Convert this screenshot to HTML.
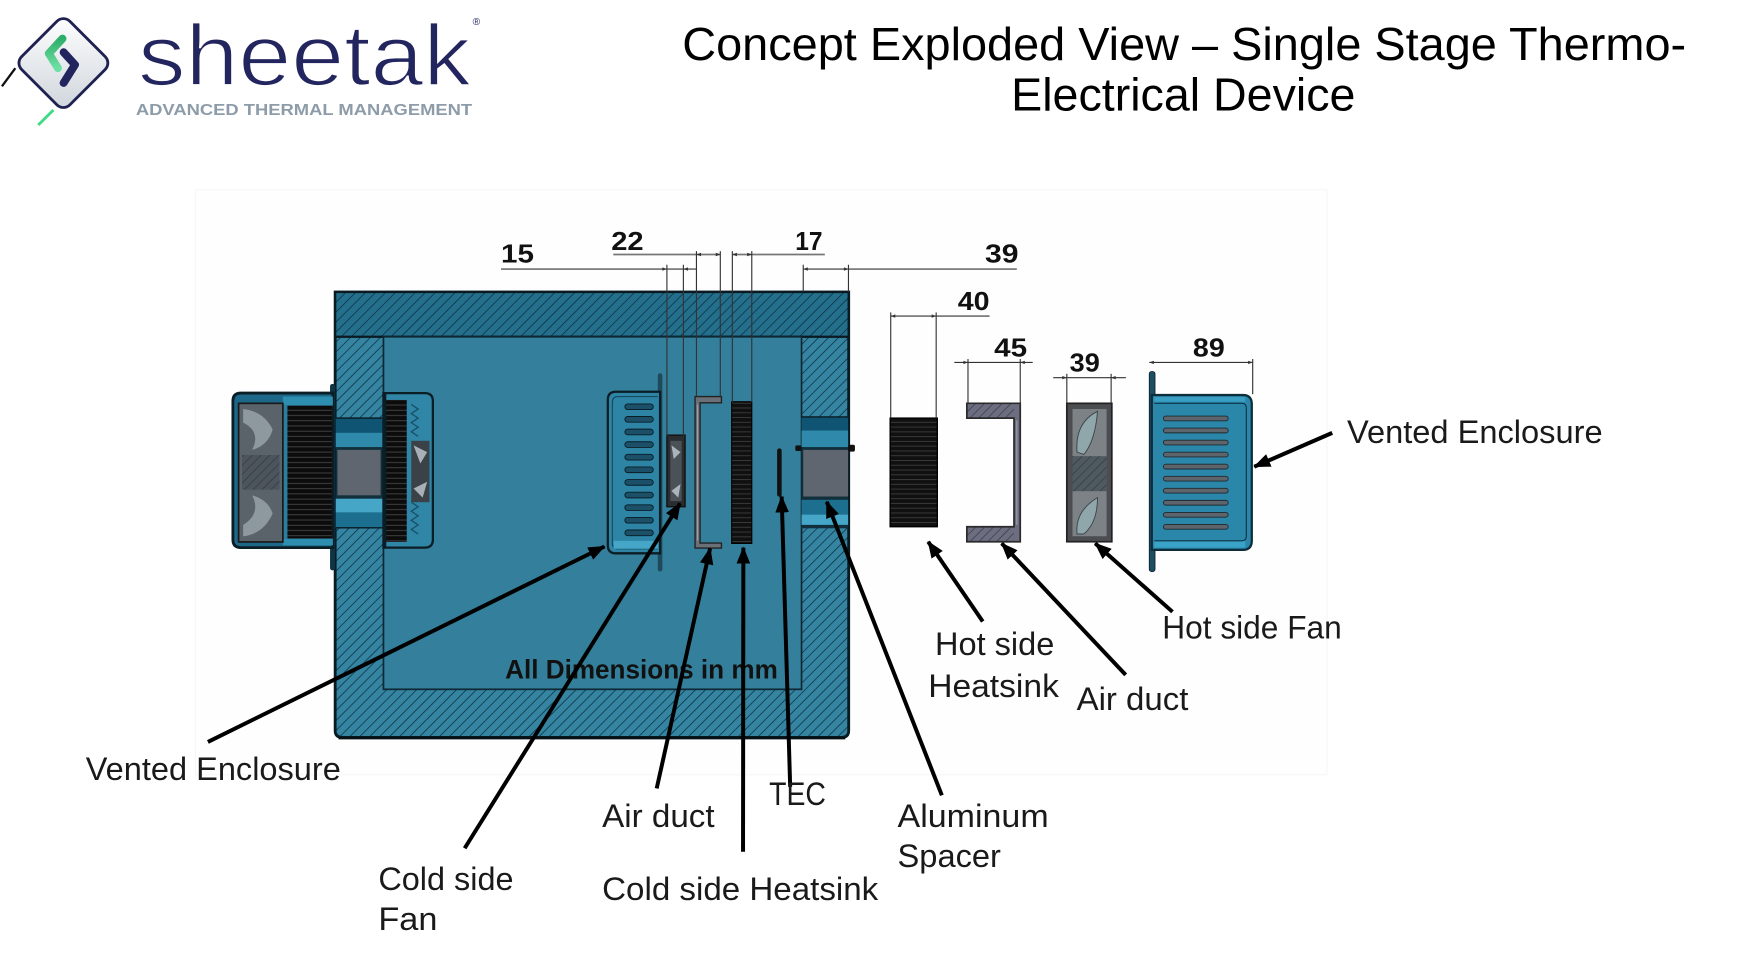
<!DOCTYPE html>
<html><head><meta charset="utf-8">
<style>
html,body{margin:0;padding:0;background:#fff;width:1761px;height:963px;overflow:hidden}
svg{display:block}
text{font-family:"Liberation Sans",Arial,sans-serif}
</style></head>
<body>
<svg width="1761" height="963" viewBox="0 0 1550 847.6" preserveAspectRatio="none" xmlns="http://www.w3.org/2000/svg">
<defs>
  <pattern id="hatch" patternUnits="userSpaceOnUse" width="6.2" height="6.2" patternTransform="rotate(45)">
    <line x1="0" y1="0" x2="0" y2="6.2" stroke="#0a2f3e" stroke-width="1.3"/>
  </pattern>
  <pattern id="hatchg" patternUnits="userSpaceOnUse" width="5.5" height="5.5" patternTransform="rotate(45)">
    <line x1="0" y1="0" x2="0" y2="5.5" stroke="#34364a" stroke-width="1.2"/>
  </pattern>
  <pattern id="fins" patternUnits="userSpaceOnUse" width="10" height="4.6">
    <rect width="10" height="4.6" fill="#0c0c0c"/>
    <line x1="0" y1="2.3" x2="10" y2="2.3" stroke="#4d4d4d" stroke-width="0.7"/>
  </pattern>
  <pattern id="fins2" patternUnits="userSpaceOnUse" width="10" height="4.2">
    <rect width="10" height="4.2" fill="#101010"/>
    <line x1="0" y1="2.1" x2="10" y2="2.1" stroke="#3c3c3c" stroke-width="0.8"/>
  </pattern>
  <linearGradient id="dia" x1="0" y1="0" x2="1" y2="1">
    <stop offset="0" stop-color="#ffffff"/>
    <stop offset="1" stop-color="#cfd5dc"/>
  </linearGradient>
  <linearGradient id="grn" x1="0" y1="0" x2="0" y2="1">
    <stop offset="0" stop-color="#2fae6a"/>
    <stop offset="1" stop-color="#6fe0a4"/>
  </linearGradient>
  <marker id="ah" markerWidth="15" markerHeight="12" refX="14" refY="6" orient="auto" markerUnits="userSpaceOnUse">
    <path d="M0,0 L15,6 L0,12 Z" fill="#000"/>
  </marker>
</defs>

<rect x="0" y="0" width="1550" height="847.6" fill="#fff"/>
<rect x="172" y="167" width="996" height="515" fill="#fefefe" stroke="#f6f6f6" stroke-width="1"/>

<!-- ===== LOGO ===== -->
<line x1="13.5" y1="60" x2="1.7" y2="76" stroke="#111" stroke-width="2"/>
<line x1="47" y1="96.8" x2="33.7" y2="110" stroke="#3ddc84" stroke-width="2.5"/>
<rect x="-30" y="-30" width="60" height="60" rx="8" transform="translate(55.8,55.5) rotate(45)" fill="url(#dia)" stroke="#1f2150" stroke-width="2.5"/>
<polyline points="55,34 43,47 51,60" fill="none" stroke="url(#grn)" stroke-width="7" stroke-linecap="round" stroke-linejoin="round"/>
<polyline points="56,46 66,57 56,73" fill="none" stroke="#22245e" stroke-width="7" stroke-linecap="round" stroke-linejoin="round"/>
<text x="121.5" y="74.8" font-size="76" fill="#23255f" stroke="#fff" stroke-width="1.6" textLength="293" lengthAdjust="spacingAndGlyphs">sheetak</text>
<text x="416" y="22" font-size="9" fill="#23255f">®</text>
<text x="119.6" y="101.2" font-size="13.5" font-weight="bold" fill="#8d9ca8" textLength="296" lengthAdjust="spacingAndGlyphs">ADVANCED THERMAL MANAGEMENT</text>

<!-- ===== TITLE ===== -->
<text x="600.5" y="52.8" font-size="41" fill="#000" textLength="883.6" lengthAdjust="spacingAndGlyphs">Concept Exploded View – Single Stage Thermo-</text>
<text x="890" y="97.4" font-size="41" fill="#000" textLength="303" lengthAdjust="spacingAndGlyphs">Electrical Device</text>

<!-- ===== MAIN ENCLOSURE ===== -->
<path d="M295,257 H747 V643 Q747,649 741,649 H301 Q295,649 295,643 Z" fill="#3584a1"/>
<path d="M295,257 H747 V643 Q747,649 741,649 H301 Q295,649 295,643 Z" fill="url(#hatch)"/>
<path d="M295,257 H747 V643 Q747,649 741,649 H301 Q295,649 295,643 Z" fill="none" stroke="#0a1a22" stroke-width="2.5"/>
<line x1="298" y1="649.5" x2="744" y2="649.5" stroke="#071217" stroke-width="2.5"/>
<rect x="295" y="257" width="452" height="39.4" fill="#246f8c"/>
<rect x="295" y="257" width="452" height="39.4" fill="url(#hatch)"/>
<rect x="295" y="257" width="452" height="39.4" fill="none" stroke="#0a1a22" stroke-width="2"/>
<rect x="337.5" y="296.4" width="368" height="310.3" fill="#347f9b" stroke="#0d2833" stroke-width="1.5"/>

<!-- left wall channel -->
<rect x="295.5" y="368" width="42" height="13" fill="#0f5573"/>
<rect x="295.5" y="381" width="42" height="12.5" fill="#2e89aa"/>
<rect x="295.5" y="393.5" width="42" height="2.5" fill="#11303c"/>
<rect x="295.5" y="396" width="42" height="40" fill="#11303c"/>
<rect x="297" y="396" width="38" height="40" fill="#5f6670"/>
<rect x="295.5" y="436" width="42" height="3" fill="#11303c"/>
<rect x="295.5" y="439" width="42" height="12" fill="#45a6c8"/>
<rect x="295.5" y="451" width="42" height="13.6" fill="#1c6f8f"/>
<line x1="295.5" y1="368" x2="337.5" y2="368" stroke="#0a1a22" stroke-width="1.2"/>
<line x1="295.5" y1="464.6" x2="337.5" y2="464.6" stroke="#0a1a22" stroke-width="1.2"/>

<!-- right wall channel -->
<rect x="705.5" y="367" width="41" height="12" fill="#0f5573"/>
<rect x="705.5" y="379" width="41" height="14.5" fill="#2e89aa"/>
<rect x="705.5" y="393.5" width="41" height="46.5" fill="#11303c"/>
<rect x="707" y="396" width="39.5" height="41" fill="#5f6670"/>
<rect x="705.5" y="440" width="41" height="13" fill="#1c6f8f"/>
<rect x="705.5" y="453" width="41" height="9" fill="#45a6c8"/>
<rect x="705.5" y="462" width="41" height="3" fill="#11303c"/>
<line x1="705.5" y1="367" x2="746.5" y2="367" stroke="#0a1a22" stroke-width="1.2"/>
<rect x="700" y="392" width="5.5" height="5" rx="1.5" fill="#111"/>
<rect x="746.5" y="391.5" width="6" height="6" rx="1.5" fill="#111"/>

<!-- left outer fan assembly -->
<rect x="290.5" y="338" width="4.5" height="164" rx="2" fill="#0f3443"/>
<path d="M293,346 H212 Q205,346 205,353 V475 Q205,482 212,482 H293 Z" fill="#1d6888" stroke="#0b1d25" stroke-width="2.5"/>
<rect x="249" y="349" width="44" height="8" fill="#2d8eb0"/>
<rect x="249" y="474" width="44" height="6" fill="#2d8eb0"/>
<rect x="250" y="357" width="42" height="117" fill="url(#fins)"/>
<rect x="249" y="357" width="4" height="117" fill="#2b7f9e"/>
<rect x="210" y="355" width="39" height="122" fill="#5b636a" stroke="#1a1a1a" stroke-width="1.5"/>
<path d="M214,360 Q232,362 240,378 Q236,392 222,396 Q230,380 214,372 Z" fill="#8d999e"/>
<path d="M214,472 Q232,470 240,452 Q236,440 222,436 Q230,452 214,462 Z" fill="#8d999e"/>
<rect x="213" y="400.5" width="33" height="30.5" fill="#4b555b"/>
<rect x="213" y="400.5" width="33" height="30.5" fill="url(#hatchg)"/>

<!-- inner left component -->
<path d="M337.5,346 H374 Q381,346 381,353 V475 Q381,482 374,482 H337.5 Z" fill="#2f86a6" stroke="#0b1d25" stroke-width="2"/>
<rect x="339" y="352" width="19" height="125" fill="url(#fins)"/>
<path d="M362,356 l6,4 l-6,4 l6,4 l-6,4 l6,4 l-6,4 l6,4 M362,442 l6,4 l-6,4 l6,4 l-6,4 l6,4 l-6,4 l6,4" fill="none" stroke="#1a5068" stroke-width="1.2"/>
<rect x="362" y="388" width="16" height="54" fill="#3b4247"/>
<path d="M364,392 L376,398 L370,408 Z M364,430 L376,424 L372,438 Z" fill="#a6b0b6"/>
<line x1="339" y1="346" x2="339" y2="482" stroke="#0b1d25" stroke-width="2"/>

<!-- cold side vented enclosure -->
<rect x="579" y="328.5" width="4" height="174.5" rx="2" fill="#1e4a5c"/>
<path d="M581,344.8 H542 Q535,344.8 535,352 V480 Q535,487 542,487 H581 Z" fill="#2d84a5" stroke="#0b1d25" stroke-width="2"/>
<path d="M579,349 H544 Q539,349 539,354 V478 Q539,483 544,483 H579" fill="none" stroke="#134a60" stroke-width="1"/>
<rect x="540" y="476" width="39" height="7" fill="#45a6c8"/>
<g fill="#1b5068" stroke="#0b1d25" stroke-width="0.8">
  <rect x="550" y="355.5" width="25" height="5" rx="2.5"/>
  <rect x="550" y="366.6" width="25" height="5" rx="2.5"/>
  <rect x="550" y="377.7" width="25" height="5" rx="2.5"/>
  <rect x="550" y="388.8" width="25" height="5" rx="2.5"/>
  <rect x="550" y="399.9" width="25" height="5" rx="2.5"/>
  <rect x="550" y="411" width="25" height="5" rx="2.5"/>
  <rect x="550" y="422.1" width="25" height="5" rx="2.5"/>
  <rect x="550" y="433.2" width="25" height="5" rx="2.5"/>
  <rect x="550" y="444.3" width="25" height="5" rx="2.5"/>
  <rect x="550" y="455.4" width="25" height="5" rx="2.5"/>
  <rect x="550" y="466.5" width="25" height="5" rx="2.5"/>
</g>

<!-- cold fan -->
<rect x="587" y="383" width="16" height="63" fill="#2a2d30" stroke="#111" stroke-width="1.2"/>
<rect x="590" y="388" width="10" height="53" fill="#4a5257"/>
<path d="M591,392 L599,398 L593,404 Z M591,432 L599,426 L597,438 Z" fill="#aab4ba"/>

<!-- cold air duct -->
<path d="M611.8,349 H635 V354.5 H616.2 V478 H635 V482.4 H611.8 Z" fill="#6b6f78" stroke="#222" stroke-width="1.2"/>
<line x1="614" y1="356" x2="614" y2="476" stroke="#9aa0a8" stroke-width="1"/>

<!-- cold heatsink -->
<rect x="644" y="353.6" width="17.7" height="124.7" fill="url(#fins2)" stroke="#000" stroke-width="1"/>

<!-- TEC -->
<rect x="684" y="394.6" width="4" height="42.6" rx="2" fill="#111"/>

<!-- ===== HOT SIDE PARTS ===== -->
<rect x="783.5" y="368" width="41.5" height="95.6" fill="url(#fins2)" stroke="#000" stroke-width="1.2"/>
<path d="M851,355 H898 V476.8 H851 V463.6 H892.5 V368 H851 Z" fill="#6c6e80"/>
<rect x="851" y="355" width="41.5" height="13" fill="url(#hatchg)"/>
<rect x="851" y="463.6" width="41.5" height="13.2" fill="url(#hatchg)"/>
<path d="M851,355 H898 V476.8 H851 V463.6 H892.5 V368 H851 Z" fill="none" stroke="#2a2a2a" stroke-width="1.5"/>
<line x1="895" y1="370" x2="895" y2="462" stroke="#9aa0b0" stroke-width="1"/>
<rect x="939" y="355" width="39.6" height="121.8" fill="#4b4d50" stroke="#222" stroke-width="1.5"/>
<rect x="944" y="360" width="30" height="112" fill="#7d8286"/>
<path d="M948,398 Q946,372 966,362 Q964,388 954,400 Z" fill="#8fa6ab" stroke="#3a4448" stroke-width="0.8"/>
<path d="M948,470 Q946,450 966,438 Q966,460 954,470 Z" fill="#8fa6ab" stroke="#3a4448" stroke-width="0.8"/>
<rect x="944" y="401.5" width="30" height="30.8" fill="#4e5a5e"/>
<rect x="944" y="401.5" width="30" height="30.8" fill="url(#hatchg)"/>

<rect x="1011.6" y="327" width="5" height="176" rx="2" fill="#1d4e63" stroke="#0d2430" stroke-width="0.8"/>
<path d="M1013.8,347.7 H1094 Q1101.8,347.7 1101.8,356 V476 Q1101.8,484 1094,484 H1013.8 Z" fill="#2a87aa" stroke="#0d2d3a" stroke-width="2"/>
<rect x="1016" y="349.5" width="80" height="4" fill="#3b9fc3"/>
<rect x="1016" y="476" width="80" height="6" fill="#3aa3c8"/>
<path d="M1016,355 H1093 Q1097,355 1097,359 V472 Q1097,476 1093,476 H1016" fill="none" stroke="#0d3547" stroke-width="1"/>
<g fill="#5d646b" stroke="#1b2a30" stroke-width="0.8">
  <rect x="1024" y="366.2" width="57" height="4.2" rx="2.1"/>
  <rect x="1024" y="376.8" width="57" height="4.2" rx="2.1"/>
  <rect x="1024" y="387.4" width="57" height="4.2" rx="2.1"/>
  <rect x="1024" y="398" width="57" height="4.2" rx="2.1"/>
  <rect x="1024" y="408.6" width="57" height="4.2" rx="2.1"/>
  <rect x="1024" y="419.2" width="57" height="4.2" rx="2.1"/>
  <rect x="1024" y="429.8" width="57" height="4.2" rx="2.1"/>
  <rect x="1024" y="440.4" width="57" height="4.2" rx="2.1"/>
  <rect x="1024" y="451" width="57" height="4.2" rx="2.1"/>
  <rect x="1024" y="461.6" width="57" height="4.2" rx="2.1"/>
</g>

<!-- ===== DIMENSION LINES ===== -->
<g stroke="#333" stroke-width="1" fill="none">
  <line x1="441" y1="236.8" x2="613" y2="236.8"/>
  <line x1="587" y1="233" x2="587" y2="384"/>
  <line x1="601.5" y1="233" x2="601.5" y2="384"/>
  <line x1="539.8" y1="224" x2="634" y2="224" stroke="#777" stroke-width="1.6"/>
  <line x1="613" y1="221" x2="613" y2="349"/>
  <line x1="634" y1="221" x2="634" y2="349"/>
  <line x1="644.6" y1="224" x2="726" y2="224" stroke="#777" stroke-width="1.6"/>
  <line x1="644.6" y1="221" x2="644.6" y2="354"/>
  <line x1="661.7" y1="221" x2="661.7" y2="354"/>
  <line x1="707" y1="236.8" x2="895" y2="236.8"/>
  <line x1="707" y1="233" x2="707" y2="257"/>
  <line x1="746.8" y1="233" x2="746.8" y2="257"/>
  <line x1="784" y1="278.2" x2="871" y2="278.2"/>
  <line x1="784" y1="275" x2="784" y2="368"/>
  <line x1="824" y1="275" x2="824" y2="368"/>
  <line x1="840" y1="319" x2="909" y2="319"/>
  <line x1="852" y1="316" x2="852" y2="355"/>
  <line x1="898" y1="316" x2="898" y2="355"/>
  <line x1="927" y1="332.4" x2="991" y2="332.4"/>
  <line x1="939" y1="329" x2="939" y2="355"/>
  <line x1="978" y1="329" x2="978" y2="355"/>
  <line x1="1011.6" y1="319" x2="1102.6" y2="319"/>
  <line x1="1102.6" y1="316" x2="1102.6" y2="347"/>
</g>
<g fill="#333">
  <path d="M587,236.8 l-4,-1.5 v3 z M601.5,236.8 l4,-1.5 v3 z"/>
  <path d="M613,224 l4,-1.5 v3 z M634,224 l-4,-1.5 v3 z"/>
  <path d="M644.6,224 l4,-1.5 v3 z M661.7,224 l-4,-1.5 v3 z"/>
  <path d="M707,236.8 l4,-1.5 v3 z M746.8,236.8 l-4,-1.5 v3 z"/>
  <path d="M784,278.2 l4,-1.5 v3 z M824,278.2 l-4,-1.5 v3 z"/>
  <path d="M852,319 l-4,-1.5 v3 z M898,319 l4,-1.5 v3 z"/>
  <path d="M939,332.4 l-4,-1.5 v3 z M978,332.4 l4,-1.5 v3 z"/>
  <path d="M1011.6,319 l4,-1.5 v3 z M1102.6,319 l-4,-1.5 v3 z"/>
</g>
<g font-size="23" font-weight="bold" fill="#111">
  <text x="441" y="231" textLength="29" lengthAdjust="spacingAndGlyphs">15</text>
  <text x="538" y="220" textLength="28.5" lengthAdjust="spacingAndGlyphs">22</text>
  <text x="700" y="220" textLength="24" lengthAdjust="spacingAndGlyphs">17</text>
  <text x="867" y="231" textLength="29.5" lengthAdjust="spacingAndGlyphs">39</text>
  <text x="843" y="273" textLength="28" lengthAdjust="spacingAndGlyphs">40</text>
  <text x="875" y="314" textLength="29" lengthAdjust="spacingAndGlyphs">45</text>
  <text x="941.5" y="327" textLength="26.5" lengthAdjust="spacingAndGlyphs">39</text>
  <text x="1050" y="314" textLength="28" lengthAdjust="spacingAndGlyphs">89</text>
</g>

<text x="444.6" y="597" font-size="24" font-weight="bold" fill="#111" textLength="240" lengthAdjust="spacingAndGlyphs">All Dimensions in mm</text>

<!-- ===== ARROWS ===== -->
<g stroke="#000" stroke-width="3.5" fill="none" marker-end="url(#ah)">
  <line x1="183" y1="653" x2="532" y2="481"/>
  <line x1="409" y1="746.6" x2="598.6" y2="443"/>
  <line x1="578" y1="694" x2="625" y2="482.7"/>
  <line x1="654" y1="749.7" x2="654.3" y2="482"/>
  <line x1="695.5" y1="692.5" x2="688" y2="437"/>
  <line x1="829" y1="700" x2="727.7" y2="441.6"/>
  <line x1="865" y1="547" x2="817" y2="476.8"/>
  <line x1="990.8" y1="594" x2="881.7" y2="478.3"/>
  <line x1="1032" y1="538.5" x2="964" y2="478.3"/>
  <line x1="1172.6" y1="381" x2="1104" y2="410.8"/>
</g>

<!-- ===== LABELS ===== -->
<g font-size="28.5" fill="#1a1a1a">
  <text x="1185.6" y="390" textLength="225" lengthAdjust="spacingAndGlyphs">Vented Enclosure</text>
  <text x="1023" y="562" textLength="158" lengthAdjust="spacingAndGlyphs">Hot side Fan</text>
  <text x="823" y="576.6" textLength="105" lengthAdjust="spacingAndGlyphs">Hot side</text>
  <text x="817" y="613.3" textLength="115" lengthAdjust="spacingAndGlyphs">Heatsink</text>
  <text x="947.6" y="625" textLength="98.4" lengthAdjust="spacingAndGlyphs">Air duct</text>
  <text x="790" y="727.7" textLength="133" lengthAdjust="spacingAndGlyphs">Aluminum</text>
  <text x="790" y="763" textLength="91" lengthAdjust="spacingAndGlyphs">Spacer</text>
  <text x="75.5" y="686.6" textLength="224.5" lengthAdjust="spacingAndGlyphs">Vented Enclosure</text>
  <text x="333" y="783.5" textLength="119" lengthAdjust="spacingAndGlyphs">Cold side</text>
  <text x="333" y="818.7" textLength="52" lengthAdjust="spacingAndGlyphs">Fan</text>
  <text x="530" y="727.7" textLength="99" lengthAdjust="spacingAndGlyphs">Air duct</text>
  <text x="677" y="708.6" textLength="50" lengthAdjust="spacingAndGlyphs">TEC</text>
  <text x="530" y="792.2" textLength="243" lengthAdjust="spacingAndGlyphs">Cold side Heatsink</text>
</g>
</svg>
</body></html>
